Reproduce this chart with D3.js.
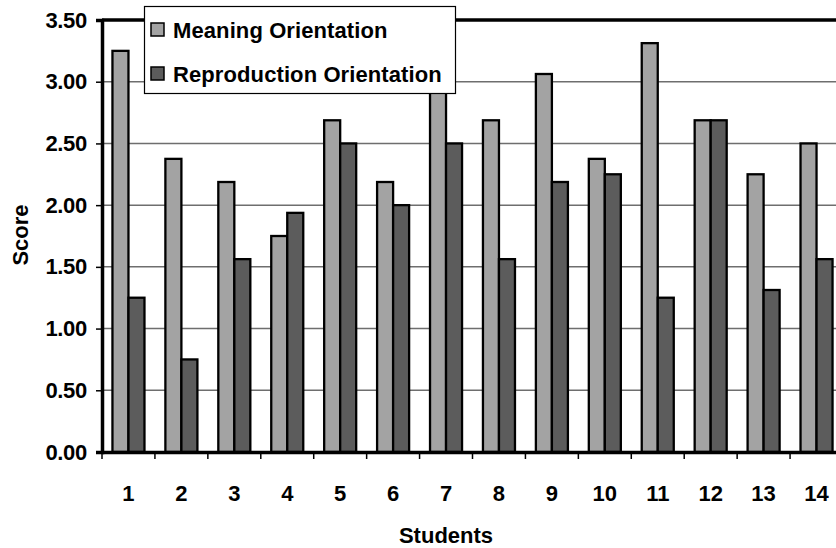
<!DOCTYPE html>
<html>
<head>
<meta charset="utf-8">
<script src="https://cdn.jsdelivr.net/npm/d3@7"></script>
<style>
  html, body { margin: 0; padding: 0; background: #fff; }
  svg { display: block; }
  text { font-family: "Liberation Sans", Arial, sans-serif; font-weight: bold; fill: #000; }
</style>
</head>
<body>
<svg id="chart" width="836" height="548"></svg>
<script>
const students = ["1","2","3","4","5","6","7","8","9","10","11","12","13","14"];
const seriesNames = ["Meaning Orientation", "Reproduction Orientation"];
const meaning = [3.25, 2.375, 2.1875, 1.75, 2.6875, 2.1875, 3.0, 2.6875, 3.0625, 2.375, 3.3125, 2.6875, 2.25, 2.5];
const reproduction = [1.25, 0.75, 1.5625, 1.9375, 2.5, 2.0, 2.5, 1.5625, 2.1875, 2.25, 1.25, 2.6875, 1.3125, 1.5625];
const yTicks = [0, 0.5, 1.0, 1.5, 2.0, 2.5, 3.0, 3.5];
const colors = ["#a3a3a3", "#5c5c5c"];

const svg = d3.select("#chart");
const plotL = 102, plotR = 843, plotT = 20, plotB = 452;

const x0 = d3.scaleBand().domain(students).range([plotL, plotR]).paddingInner(0).paddingOuter(0);
const x1 = d3.scaleBand().domain(seriesNames).range([0, x0.bandwidth()]).paddingInner(0).paddingOuter(0.653);
const y = d3.scaleLinear().domain([0, 3.5]).range([plotB, plotT]);

// gridlines
svg.append("g").selectAll("line").data(yTicks.filter(t => t > 0 && t < 3.5)).join("line")
  .attr("x1", plotL).attr("x2", plotR)
  .attr("y1", d => y(d)).attr("y2", d => y(d))
  .attr("stroke", "#6e6e6e").attr("stroke-width", 1.5);

// bars
const data = students.map((s, i) => ({ s, vals: [meaning[i], reproduction[i]] }));
const groups = svg.append("g").selectAll("g").data(data).join("g")
  .attr("transform", d => `translate(${x0(d.s)},0)`);
groups.selectAll("rect").data(d => d.vals.map((v, k) => ({ v, k }))).join("rect")
  .attr("x", d => x1(seriesNames[d.k]))
  .attr("width", x1.bandwidth())
  .attr("y", d => y(d.v))
  .attr("height", d => y(0) - y(d.v))
  .attr("fill", d => colors[d.k])
  .attr("stroke", "#000").attr("stroke-width", 2.3);

// top border
svg.append("line").attr("x1", plotL).attr("x2", plotR).attr("y1", y(3.5)).attr("y2", y(3.5))
  .attr("stroke", "#000").attr("stroke-width", 3.5);

// y axis
const yAxis = d3.axisLeft(y).tickValues(yTicks).tickFormat(d3.format(".2f")).tickSize(6).tickPadding(9);
const gy = svg.append("g").attr("transform", `translate(${plotL},0)`).call(yAxis);
gy.select(".domain").attr("stroke", "#000").attr("stroke-width", 3.5);
gy.selectAll(".tick line").attr("stroke", "#000").attr("stroke-width", 1.5);
gy.selectAll(".tick text").attr("font-size", 22).attr("font-family", "Liberation Sans, Arial, sans-serif")
  .attr("font-weight", "bold").attr("fill", "#000").attr("letter-spacing", -0.3);

// x axis
const xAxis = d3.axisBottom(x0).tickSize(0).tickPadding(33);
const gx = svg.append("g").attr("transform", `translate(0,${plotB})`).call(xAxis);
gx.select(".domain").attr("stroke", "#000").attr("stroke-width", 3.5);
gx.selectAll(".tick text").attr("font-size", 22).attr("font-family", "Liberation Sans, Arial, sans-serif")
  .attr("font-weight", "bold").attr("fill", "#000");
// category boundary ticks
svg.append("g").selectAll("line").data(students.concat(["end"])).join("line")
  .attr("x1", (d, i) => plotL + i * x0.step()).attr("x2", (d, i) => plotL + i * x0.step())
  .attr("y1", plotB).attr("y2", plotB + 7)
  .attr("stroke", "#000").attr("stroke-width", 1.5);

// axis titles
svg.append("text").attr("x", 446).attr("y", 543).attr("text-anchor", "middle")
  .attr("font-size", 22).text("Students");
svg.append("text").attr("transform", "translate(28,235) rotate(-90)").attr("text-anchor", "middle")
  .attr("font-size", 22).text("Score");

// legend
const lg = svg.append("g");
lg.append("rect").attr("x", 144.5).attr("y", 6.5).attr("width", 311).attr("height", 87)
  .attr("fill", "#fff").attr("stroke", "#000").attr("stroke-width", 1.2);
const rows = lg.selectAll("g.row").data(seriesNames).join("g").attr("class", "row")
  .attr("transform", (d, i) => `translate(0,${i * 44})`);
rows.append("rect").attr("x", 151).attr("y", 23).attr("width", 13).attr("height", 13)
  .attr("fill", (d, i) => colors[i]).attr("stroke", "#000").attr("stroke-width", 1.5);
rows.append("text").attr("x", 173).attr("y", 37.5).attr("font-size", 22).attr("letter-spacing", 0.1).text(d => d);
</script>
</body>
</html>
